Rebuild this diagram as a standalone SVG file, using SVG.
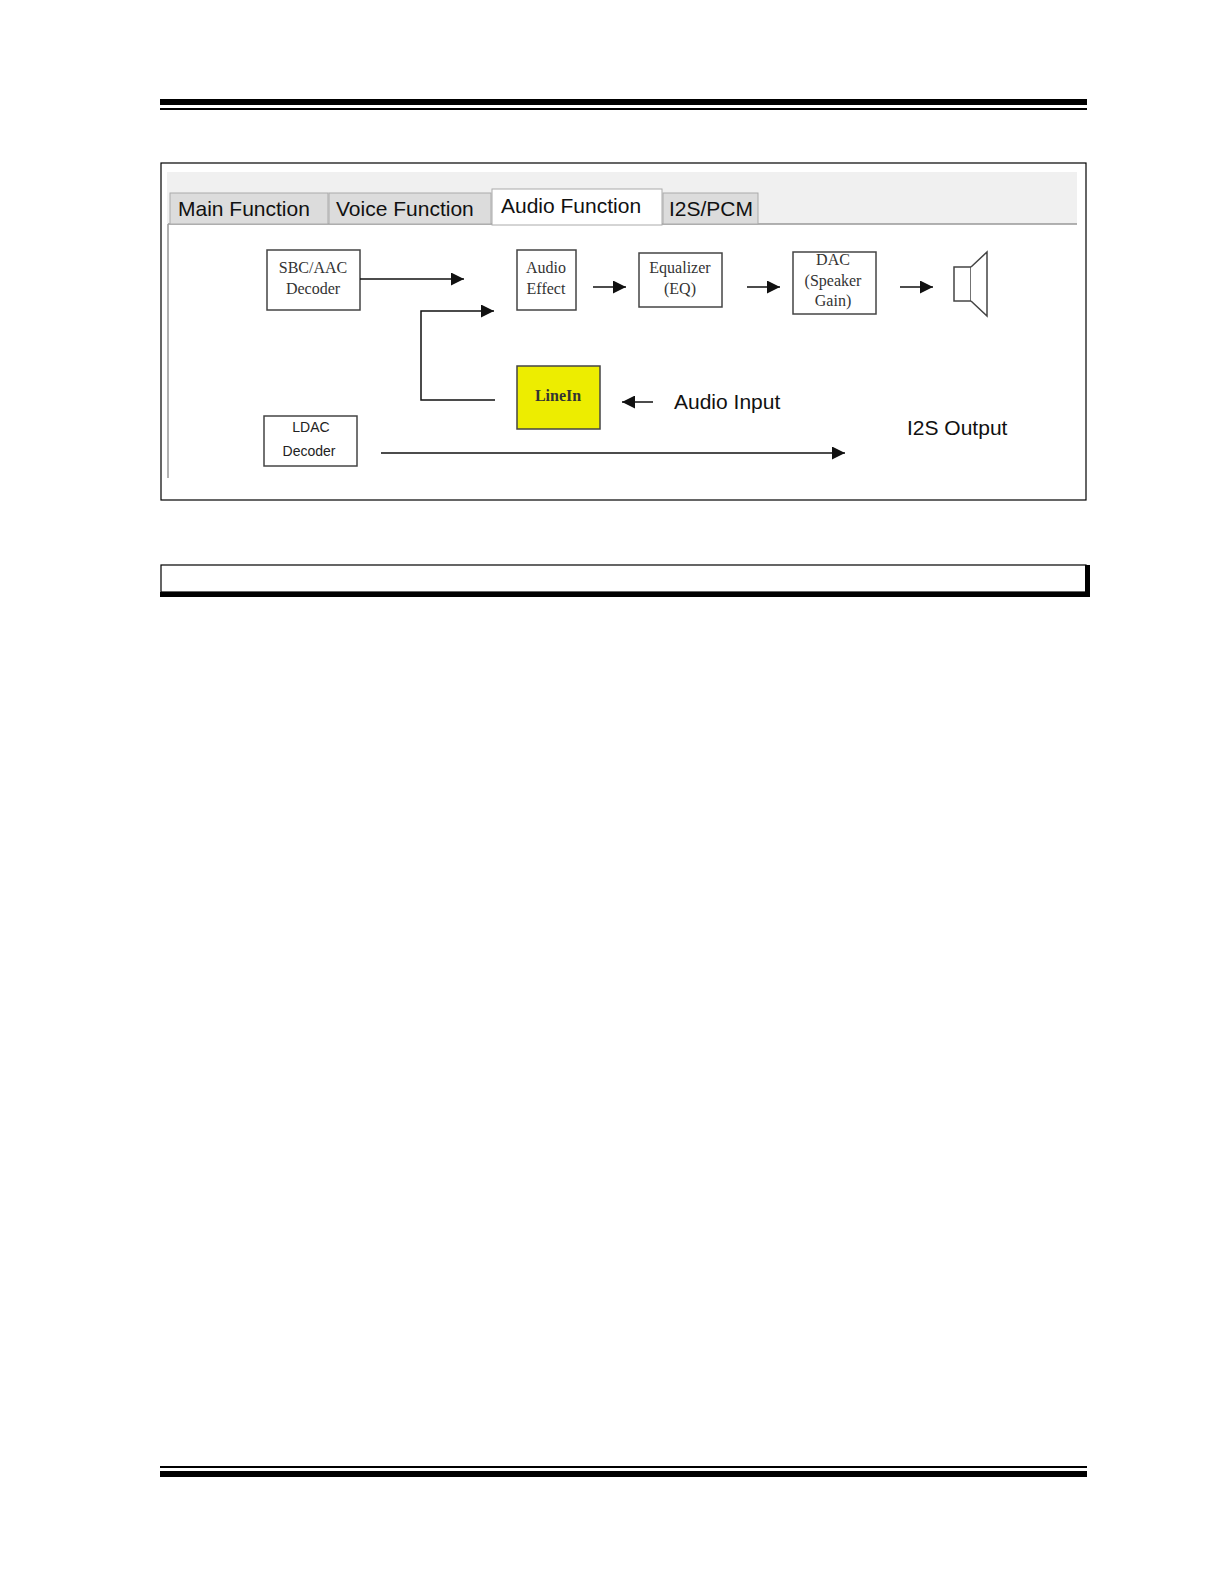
<svg xmlns="http://www.w3.org/2000/svg" width="1224" height="1584" viewBox="0 0 1224 1584">
<defs>
<style>
.box{fill:#fff;stroke:#444;stroke-width:1.5}
.ln{stroke:#111;stroke-width:1.5;fill:none}
.tab{fill:#dcdcdc;stroke:#aaa;stroke-width:1}
.tt{font-family:"Liberation Sans",Arial,sans-serif;font-size:21px;fill:#111}
.ser{font-family:"Liberation Serif",serif;font-size:16px;fill:#333;text-anchor:middle}
.san{font-family:"Liberation Sans",Arial,sans-serif;font-size:14px;fill:#222;text-anchor:middle}
.lab{font-family:"Liberation Sans",Arial,sans-serif;font-size:21px;fill:#111}
</style>
<marker id="ab" viewBox="0 0 10 10" refX="10" refY="5" markerWidth="18" markerHeight="13" markerUnits="userSpaceOnUse" orient="auto"><path d="M0,0L10,5L0,10z" fill="#111"/></marker>
</defs>
<rect x="160" y="99" width="927" height="6" fill="#000"/>
<rect x="160" y="108" width="927" height="2" fill="#000"/>
<rect x="160" y="1466" width="927" height="2" fill="#000"/>
<rect x="160" y="1471" width="927" height="6" fill="#000"/>
<rect x="161" y="163" width="925" height="337" fill="#fff" stroke="#000" stroke-width="1.2"/>
<rect x="167" y="172" width="910" height="52" fill="#f0f0f0"/>
<line x1="168" y1="224" x2="1077" y2="224" stroke="#999" stroke-width="1.5"/>
<line x1="168" y1="224" x2="168" y2="478" stroke="#999" stroke-width="1.5"/>
<g id="tabs">
<rect class="tab" x="170" y="193" width="158" height="31"/>
<text class="tt" x="178" y="216">Main Function</text>
<rect class="tab" x="329" y="193" width="162" height="31"/>
<text class="tt" x="336" y="216">Voice Function</text>
<rect x="492" y="189" width="170" height="36" fill="#fff" stroke="#aaa"/>
<text class="tt" x="501" y="213">Audio Function</text>
<rect class="tab" x="663" y="193" width="95" height="31"/>
<text class="tt" x="669" y="216">I2S/PCM</text>
</g>
<g id="sbc"><rect class="box" x="267" y="250" width="93" height="60"/><text class="ser" x="313" y="273">SBC/AAC</text><text class="ser" x="313" y="294">Decoder</text></g>
<g id="effect"><rect class="box" x="517" y="250" width="59" height="60"/><text class="ser" x="546" y="273">Audio</text><text class="ser" x="546" y="294">Effect</text></g>
<g id="eq"><rect class="box" x="639" y="253" width="83" height="54"/><text class="ser" x="680" y="273">Equalizer</text><text class="ser" x="680" y="294">(EQ)</text></g>
<g id="dac"><rect class="box" x="793" y="252" width="83" height="62"/><text class="ser" x="833" y="265">DAC</text><text class="ser" x="833" y="286">(Speaker</text><text class="ser" x="833" y="306">Gain)</text></g>
<g id="speaker"><rect class="box" x="954" y="267" width="17" height="34"/><path class="box" d="M971,267L987,252L987,316L971,301" fill="none"/></g>
<g id="linein"><rect x="517" y="366" width="83" height="63" fill="#eded00" stroke="#444" stroke-width="1.5"/><text class="ser" x="558" y="401" font-weight="bold" fill="#555">LineIn</text></g>
<g id="ldac"><rect class="box" x="264" y="416" width="93" height="50"/><text class="san" x="311" y="432">LDAC</text><text class="san" x="309" y="456">Decoder</text></g>
<g id="labels">
<text class="lab" x="674" y="409">Audio Input</text>
<text class="lab" x="907" y="435">I2S Output</text>
</g>
<g id="connectors">
<line class="ln" x1="360" y1="279" x2="464" y2="279" marker-end="url(#ab)"/>
<polyline class="ln" points="495,400 421,400 421,311 494,311" marker-end="url(#ab)"/>
<line class="ln" x1="593" y1="287" x2="626" y2="287" stroke-width="2.5" marker-end="url(#ab)"/>
<line class="ln" x1="747" y1="287" x2="780" y2="287" stroke-width="2.5" marker-end="url(#ab)"/>
<line class="ln" x1="900" y1="287" x2="933" y2="287" stroke-width="2.5" marker-end="url(#ab)"/>
<line class="ln" x1="653" y1="402" x2="622" y2="402" stroke-width="2.5" marker-end="url(#ab)"/>
<line class="ln" x1="381" y1="453" x2="845" y2="453" marker-end="url(#ab)"/>
</g>
<rect x="161" y="565" width="925" height="27" fill="#fff" stroke="#000" stroke-width="1.2"/>
<rect x="1085" y="565" width="5" height="32" fill="#000"/>
<rect x="160" y="592" width="930" height="5" fill="#000"/>
</svg>
